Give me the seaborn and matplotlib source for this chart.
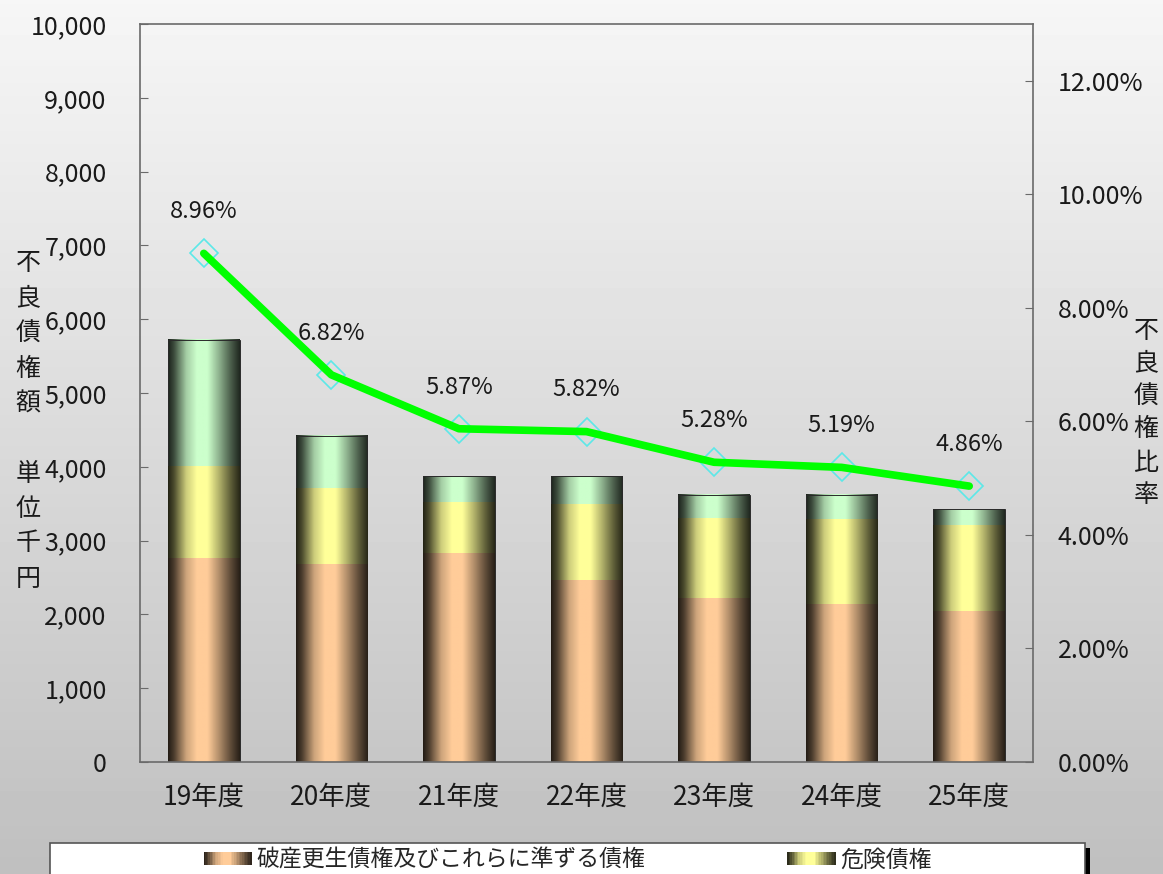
import numpy as np
import matplotlib
matplotlib.use("Agg")
import matplotlib.pyplot as plt
import matplotlib.colors as mcolors
from matplotlib.patches import Rectangle
from matplotlib.legend_handler import HandlerBase
from matplotlib.ticker import FuncFormatter, MultipleLocator
import seaborn as sns

# data
years    = ["19年度", "20年度", "21年度", "22年度", "23年度", "24年度", "25年度"]
hasan    = [2760, 2670, 2830, 2465, 2220, 2140, 2045]   # 破産更生債権及びこれらに準ずる債権
kiken    = [1240, 1030,  680, 1030, 1085, 1140, 1165]   # 危険債権
kanri    = [1720,  720,  365,  380,  315,  340,  215]   # 要管理債権 (legend row cut off in source)
ratio    = [8.96, 6.82, 5.87, 5.82, 5.28, 5.19, 4.86]   # 不良債権比率 (%)

C_HASAN, C_KIKEN, C_KANRI = "#FFCC99", "#FFFF99", "#CCFFCC"

sns.set_style("ticks")
plt.rcParams["font.family"] = ["Noto Sans CJK JP", "DejaVu Sans"]

# horizontal shading profile for the cylinder-looking bars
SX = [0.0, 0.08, 0.25, 0.40, 0.55, 0.70, 0.86, 1.0]
SY = [0.14, 0.30, 0.80, 1.00, 1.00, 0.72, 0.40, 0.16]
shade = np.interp(np.linspace(0, 1, 80), SX, SY)

fig = plt.figure(figsize=(11.63, 8.74), dpi=100)

# grey vertical gradient behind everything
bg = fig.add_axes([0, 0, 1, 1], zorder=-10)
g = np.linspace(0.965, 0.75, 200)[:, None] * np.ones((1, 2))
bg.imshow(g, cmap="gray", vmin=0, vmax=1, aspect="auto", extent=[0, 1, 0, 1])
bg.axis("off")

ax = fig.add_axes([140 / 1163, 1 - 762 / 874, 893 / 1163, 738 / 874])
ax.patch.set_alpha(0)

tot2 = np.array(hasan) + np.array(kiken)
tot3 = tot2 + np.array(kanri)
z = 2.0
for k, (vals, col) in enumerate([(tot3, C_KANRI), (tot2, C_KIKEN), (hasan, C_HASAN)]):
    n0 = len(ax.patches)
    sns.barplot(x=years, y=list(vals), color=col, saturation=1, width=0.56,
                errorbar=None, ax=ax)
    for p in ax.patches[n0:]:
        x, y, w, h = p.get_x(), p.get_y(), p.get_width(), p.get_height()
        rgb = np.array(mcolors.to_rgb(col))
        img = shade[None, :, None] * rgb[None, None, :]
        ax.imshow(img, extent=[x, x + w, y, y + h], aspect="auto",
                  interpolation="bilinear", zorder=z)
        p.set_facecolor("none")
        if k == 0:
            p.set_edgecolor("#2a2a2a")
            p.set_linewidth(0.7)
        else:
            p.set_edgecolor("none")
        p.set_zorder(z + 0.05)
    z += 0.1

ax.set_xlim(-0.5, 6.5)
ax.set_ylim(0, 10000)
ax.yaxis.set_major_locator(MultipleLocator(1000))
ax.yaxis.set_major_formatter(FuncFormatter(lambda v, _: f"{int(v):,}"))
ax.set_xlabel("")
ax.set_ylabel("")
for s in ax.spines.values():
    s.set_visible(True)
    s.set_color("#6a6a6a")
    s.set_linewidth(1.2)
ax.tick_params(axis="y", direction="in", length=6, color="#6a6a6a",
               labelsize=18, pad=24, labelcolor="#1a1a1a")
ax.tick_params(axis="x", length=0, labelsize=19, pad=16, labelcolor="#1a1a1a")

ax2 = ax.twinx()
ax2.plot(range(len(years)), ratio, color="#00FF00", lw=5.5,
         solid_capstyle="round", zorder=3)
ax2.plot(range(len(years)), ratio, ls="none", marker="D", ms=14,
         mfc="none", mec="#5CE8E8", mew=1.2, zorder=2)
for i, r in enumerate(ratio):
    ax2.annotate(f"{r:.2f}%", (i, r), xytext=(0, 30), textcoords="offset points",
                 ha="center", va="center", fontsize=17, color="#1a1a1a")
ax2.set_ylim(0, 13)
ax2.yaxis.set_major_locator(MultipleLocator(2))
ax2.yaxis.set_major_formatter(FuncFormatter(lambda v, _: f"{v:.2f}%"))
for s in ax2.spines.values():
    s.set_visible(False)
ax2.tick_params(axis="y", direction="in", length=6, color="#6a6a6a",
                labelsize=18, pad=18, labelcolor="#1a1a1a")

fig.text(28 / 1163, 1 - 421 / 874, "不\n良\n債\n権\n額\n\n単\n位\n千\n円",
         ha="center", va="center", fontsize=18, linespacing=1.45, color="#1a1a1a")
fig.text(1146 / 1163, 1 - 413 / 874, "不\n良\n債\n権\n比\n率",
         ha="center", va="center", fontsize=18, linespacing=1.35, color="#1a1a1a")

# legend box at the bottom (partly cut off by the figure edge)
bx0, bx1, btop = 50 / 1163, 1085 / 1163, 1 - 843 / 874
fig.patches.append(Rectangle((bx0 + 5 / 1163, -0.05), bx1 - bx0, btop + 0.05 - 5 / 874,
                             transform=fig.transFigure, facecolor="black",
                             edgecolor="none", zorder=1))
fig.patches.append(Rectangle((bx0, -0.05), bx1 - bx0, btop + 0.05,
                             transform=fig.transFigure, facecolor="white",
                             edgecolor="#555555", lw=1.2, zorder=2))


class GradHandler(HandlerBase):
    def create_artists(self, legend, orig, xd, yd, width, height, fontsize, trans):
        rgb = np.array(mcolors.to_rgb(orig.get_facecolor()))
        n = 30
        arts = []
        for i in range(n):
            s = np.interp((i + 0.5) / n, SX, SY)
            arts.append(Rectangle((-xd + i * width / n, -yd), width / n * 1.1, height,
                                  facecolor=rgb * s, edgecolor="none", transform=trans))
        return arts


h_hasan = Rectangle((0, 0), 1, 1, facecolor=C_HASAN)
h_kiken = Rectangle((0, 0), 1, 1, facecolor=C_KIKEN)
leg = fig.legend([h_hasan, h_kiken],
                 ["破産更生債権及びこれらに準ずる債権", "危険債権"],
                 handler_map={Rectangle: GradHandler()}, ncol=2, frameon=False,
                 loc="upper center", bbox_to_anchor=(567.5 / 1163, 1 - 837 / 874),
                 borderpad=0, fontsize=16.5, handlelength=2.1, handleheight=0.5,
                 handletextpad=0.2, columnspacing=6.2)
leg.set_zorder(3)

fig.savefig("out.png", dpi=100)
